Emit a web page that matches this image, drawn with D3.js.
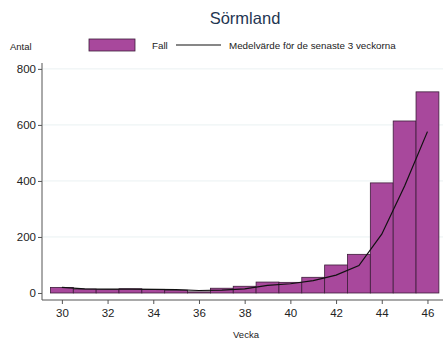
<!DOCTYPE html>
<html><head><meta charset="utf-8">
<script src="https://cdn.jsdelivr.net/npm/d3@7"></script>
<style>body{margin:0;background:#fff}svg{display:block;font-family:"Liberation Sans",Arial,sans-serif}</style>
</head><body><svg id="c" width="445" height="343"></svg>
<script>
const weeks = [30,31,32,33,34,35,36,37,38,39,40,41,42,43,44,45,46];
const cases = [20,14,12,15,13,10,4,17,24,39,38,56,100,138,393,614,718];
const avg3  = [20,15,14,14,13,12,9,10,15,27,33,44,64,98,210,382,576];
const yTicks = [0,200,400,600,800];
const xTicks = [30,32,34,36,38,40,42,44,46];

const svg = d3.select("#c");
const x = d3.scaleLinear().domain([29.13, 46.68]).range([42, 443]);
const y = d3.scaleLinear().domain([-25, 821]).range([300, 63]);

// gridlines
svg.append("g").selectAll("line").data(yTicks.filter(d=>d>0)).join("line")
  .attr("x1",43).attr("x2",443).attr("y1",d=>y(d)).attr("y2",d=>y(d))
  .attr("stroke","#eaf1f2").attr("stroke-width",1);

// bars
svg.append("g").selectAll("rect").data(weeks).join("rect")
  .attr("x",(d)=>x(d-0.5)).attr("width",(d)=>x(d+0.5)-x(d-0.5))
  .attr("y",(d,i)=>y(cases[i])).attr("height",(d,i)=>y(0)-y(cases[i]))
  .attr("fill","#a8489c").attr("stroke","#3d1d3a").attr("stroke-width",0.8);

// line
svg.append("path").datum(weeks)
  .attr("d", d3.line().x(d=>x(d)).y((d,i)=>y(avg3[i])))
  .attr("fill","none").attr("stroke","#111").attr("stroke-width",1.2);

// axes
const ya = svg.append("g").attr("transform","translate(42,0)")
  .call(d3.axisLeft(y).tickValues(yTicks).tickSize(4).tickPadding(2));
ya.select(".domain").attr("d","M0,63V300").attr("stroke","#555");
ya.selectAll(".tick line").attr("stroke","#555");
ya.selectAll("text").attr("font-size",11.5).attr("fill","#222").attr("font-family","Liberation Sans, Arial, sans-serif");

const xa = svg.append("g").attr("transform","translate(0,300)")
  .call(d3.axisBottom(x).tickValues(xTicks).tickSize(4).tickPadding(5));
xa.select(".domain").attr("d","M42,0H443").attr("stroke","#555");
xa.selectAll(".tick line").attr("stroke","#555");
xa.selectAll("text").attr("font-size",11.5).attr("fill","#222").attr("font-family","Liberation Sans, Arial, sans-serif");

// title
svg.append("text").attr("x",245).attr("y",24).attr("text-anchor","middle")
  .attr("font-size",16.5).attr("fill","#1f3652").text("Sörmland");

// axis titles
svg.append("text").attr("x",10).attr("y",50).attr("font-size",9.5).attr("fill","#222").text("Antal");
svg.append("text").attr("x",246).attr("y",338).attr("text-anchor","middle").attr("font-size",9.5).attr("fill","#222").text("Vecka");

// legend
svg.append("rect").attr("x",89).attr("y",39).attr("width",46).attr("height",12)
  .attr("fill","#a8489c").attr("stroke","#3d1d3a").attr("stroke-width",0.8);
svg.append("text").attr("x",152).attr("y",49).attr("font-size",9.8).attr("fill","#222").text("Fall");
svg.append("line").attr("x1",176).attr("x2",221).attr("y1",45).attr("y2",45).attr("stroke","#111").attr("stroke-width",1.2);
svg.append("text").attr("x",229).attr("y",49).attr("font-size",9.8).attr("fill","#222").text("Medelvärde för de senaste 3 veckorna");
</script></body></html>
